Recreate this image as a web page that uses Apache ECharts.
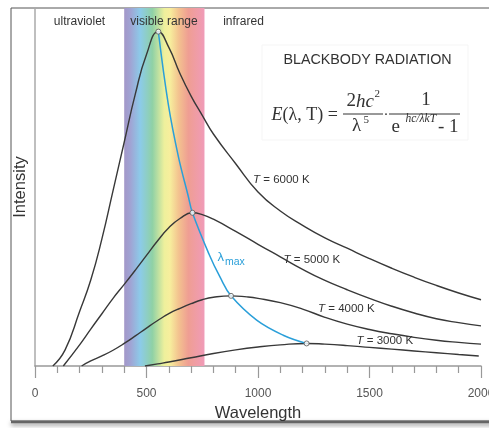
<!DOCTYPE html>
<html>
<head>
<meta charset="utf-8">
<script src="https://cdn.jsdelivr.net/npm/echarts@6.0.0/dist/echarts.min.js"></script>
<style>
  html, body { margin: 0; padding: 0; background: #fff; }
  #main { width: 489px; height: 428px; }
</style>
</head>
<body>
<div id="main"></div>
<script>
// wavelength (nm) / relative intensity
const wl6000 = [80, 135, 200, 250, 300, 350, 400, 450, 500, 553, 600, 650, 700, 750, 800, 900, 1000, 1100, 1200, 1300, 1400, 1500, 1600, 1700, 1800, 1900, 2000];
const int6000 = [0, 4.5, 15.2, 24, 35.5, 49, 62.5, 76, 87, 93.4, 89, 81.7, 75.4, 70, 64.8, 56.5, 48.6, 43.3, 39.3, 35.8, 32.9, 30, 27.3, 24.8, 22.5, 20.4, 18.5];

const wl5000 = [127, 200, 250, 300, 350, 400, 450, 500, 550, 600, 650, 706, 750, 800, 900, 1000, 1100, 1200, 1300, 1400, 1500, 1600, 1700, 1800, 1900, 2000];
const int5000 = [0, 5.9, 10.3, 14.6, 18.9, 22.8, 26.8, 30.9, 35, 38.6, 41.2, 42.8, 42.3, 41, 37.6, 34, 30.5, 27, 23.9, 21.3, 18.9, 16.7, 14.8, 13.2, 12.1, 11.2];

const wl4000 = [209, 250, 300, 350, 400, 450, 500, 550, 600, 650, 700, 750, 800, 879, 950, 1000, 1100, 1200, 1300, 1400, 1500, 1600, 1700, 1800, 1900, 2000];
const int4000 = [0, 1.4, 2.8, 4.4, 6.3, 8.4, 10.6, 12.7, 14.6, 16.1, 17.4, 18.5, 19.2, 19.6, 19.3, 18.9, 17.7, 15.9, 13.6, 11.7, 10.2, 9, 8, 7.2, 6.6, 6.1];

const wl3000 = [493, 550, 600, 700, 800, 900, 1000, 1100, 1218, 1300, 1400, 1500, 1600, 1700, 1800, 1900, 1990];
const int3000 = [0, 0.6, 1.1, 2.3, 3.5, 4.5, 5.3, 5.9, 6.3, 6.1, 5.7, 5.2, 4.7, 4.2, 3.7, 3.2, 2.8];

// lambda max curve through the peaks
const wlMax = [553, 598, 643, 687, 706, 780, 830, 879, 994, 1113, 1218];
const intMax = [93.4, 73, 58.5, 47.5, 42.8, 31.3, 24.8, 19.6, 12.8, 8.6, 6.3];

const peakWl = [553, 706, 879, 1218];
const peakInt = [93.4, 42.8, 19.6, 6.3];

const xTicks = [0, 500, 1000, 1500, 2000];
const visibleRange = [400, 760];

const zip = (xs, ys) => xs.map((x, i) => [x, ys[i]]);

const chart = echarts.init(document.getElementById('main'));

const dark = '#333';
const curve = (name, xs, ys, extra) => Object.assign({
  name: name,
  type: 'line',
  data: zip(xs, ys),
  showSymbol: false,
  smooth: 0.5,
  lineStyle: { color: '#383838', width: 1.4 },
  z: 3,
  silent: true
}, extra || {});

const band = new echarts.graphic.LinearGradient(0, 0, 1, 0, [
  { offset: 0, color: '#a397c8' },
  { offset: 0.08, color: '#a0a4d4' },
  { offset: 0.2, color: '#8ccbe9' },
  { offset: 0.35, color: '#8fd1a6' },
  { offset: 0.5, color: '#eef09c' },
  { offset: 0.57, color: '#f7ee9d' },
  { offset: 0.68, color: '#f3c28f' },
  { offset: 0.8, color: '#ef9e93' },
  { offset: 1, color: '#f09bb8' }
]);

const serif = 'Liberation Serif';
const sans = 'Liberation Sans';
const txt = (x, y, text, size, opts) => ({
  type: 'text', x: x, y: y, z: 10, silent: true,
  style: Object.assign({
    text: text, fontSize: size, fontFamily: sans, fill: dark,
    verticalAlign: 'middle', align: 'left'
  }, opts || {})
});
const tLabel = (x, y, text) => txt(x, y, '{i|T} ' + text, 11.5, {
  rich: { i: { fontStyle: 'italic', fontSize: 11.5, fontFamily: sans, fill: dark } }
});
const italic = size => ({ i: { fontStyle: 'italic', fontSize: size, fontFamily: serif, fill: dark } });

chart.setOption({
  backgroundColor: '#fff',
  animation: false,
  grid: { left: 35, right: 8, top: 8, bottom: 62, outerBoundsMode: 'none' },
  xAxis: {
    type: 'value',
    min: 0,
    max: 2000,
    interval: 500,
    name: 'Wavelength',
    nameLocation: 'middle',
    nameGap: 39,
    nameTextStyle: { fontSize: 16.5, color: dark, fontFamily: sans },
    axisLine: { lineStyle: { color: '#999', width: 1.5 } },
    axisTick: { show: true, length: 12, lineStyle: { color: '#999', width: 1.2 } },
    minorTick: { show: true, splitNumber: 5, length: 7, lineStyle: { color: '#999', width: 1.2 } },
    splitLine: { show: false },
    axisLabel: {
      margin: 22, color: '#555', fontSize: 12, fontFamily: sans,
      formatter: v => xTicks.includes(v) ? String(v) : ''
    }
  },
  yAxis: {
    type: 'value',
    min: 0,
    max: 100,
    name: 'Intensity',
    nameLocation: 'middle',
    nameGap: 6,
    nameTextStyle: { fontSize: 16.5, color: dark, fontFamily: sans },
    axisLine: { show: true, lineStyle: { color: '#aaa', width: 1.5 } },
    axisTick: { show: false },
    axisLabel: { show: false },
    splitLine: { show: false }
  },
  series: [
    curve('T = 6000 K', wl6000, int6000, {
      markArea: {
        silent: true,
        itemStyle: { color: band },
        data: [[{ xAxis: visibleRange[0] }, { xAxis: visibleRange[1] }]]
      }
    }),
    curve('T = 5000 K', wl5000, int5000),
    curve('T = 4000 K', wl4000, int4000),
    curve('T = 3000 K', wl3000, int3000),
    curve('λmax', wlMax, intMax, { smooth: 0.4, lineStyle: { color: '#2a9fd9', width: 1.5 }, z: 4 }),
    {
      type: 'scatter',
      data: zip(peakWl, peakInt),
      symbolSize: 5,
      itemStyle: { color: '#fff', borderColor: '#555', borderWidth: 1 },
      z: 5,
      silent: true
    }
  ],
  graphic: [
    // frame
    { type: 'rect', z: 0, silent: true, shape: { x: 11, y: 8, width: 500, height: 413 },
      style: { fill: null, stroke: '#555', lineWidth: 1 } },
    { type: 'line', z: 0, silent: true, shape: { x1: 11, y1: 422, x2: 500, y2: 422 },
      style: { stroke: '#666', lineWidth: 2.5, shadowBlur: 4, shadowColor: 'rgba(0,0,0,0.5)', shadowOffsetY: 2 } },
    // range labels
    txt(79.5, 21.5, 'ultraviolet', 12, { align: 'center' }),
    txt(164, 21.5, 'visible range', 12, { align: 'center' }),
    txt(243.5, 21.5, 'infrared', 12, { align: 'center' }),
    // formula box
    { type: 'rect', z: 1, silent: true, shape: { x: 262, y: 45, width: 206, height: 95 },
      style: { fill: '#fff', stroke: '#f5f5f5', lineWidth: 1 } },
    txt(367.5, 60, 'BLACKBODY RADIATION', 14.3, { align: 'center' }),
    txt(271.5, 115, '{i|E}(λ, T) =', 18, { fontFamily: serif, rich: italic(18) }),
    txt(346.5, 101.5, '2{i|hc}', 19, { fontFamily: serif, rich: italic(19) }),
    txt(374.5, 94, '2', 11, { fontFamily: serif }),
    { type: 'line', z: 10, silent: true, shape: { x1: 343, y1: 114, x2: 383, y2: 114 },
      style: { stroke: dark, lineWidth: 1 } },
    txt(352, 126, 'λ', 19, { fontFamily: serif }),
    txt(363.5, 120, '5', 11, { fontFamily: serif }),
    txt(386, 115.5, '·', 15, { fontFamily: serif, align: 'center' }),
    txt(426, 100, '1', 19, { fontFamily: serif, align: 'center' }),
    { type: 'line', z: 10, silent: true, shape: { x1: 389, y1: 114, x2: 460, y2: 114 },
      style: { stroke: dark, lineWidth: 1 } },
    txt(391.5, 127, 'e', 19, { fontFamily: serif }),
    txt(405.5, 118.5, 'hc/λkT', 11.5, { fontFamily: serif, fontStyle: 'italic' }),
    txt(438, 127, '- 1', 19, { fontFamily: serif }),
    // curve labels
    tLabel(253, 180, '= 6000 K'),
    tLabel(283.5, 260, '= 5000 K'),
    tLabel(318, 308.5, '= 4000 K'),
    tLabel(356.5, 340.5, '= 3000 K'),
    txt(217.5, 257, 'λ', 13, { fill: '#2a9fd9' }),
    txt(225, 262.5, 'max', 10.5, { fill: '#2a9fd9' })
  ]
});
</script>
</body>
</html>
